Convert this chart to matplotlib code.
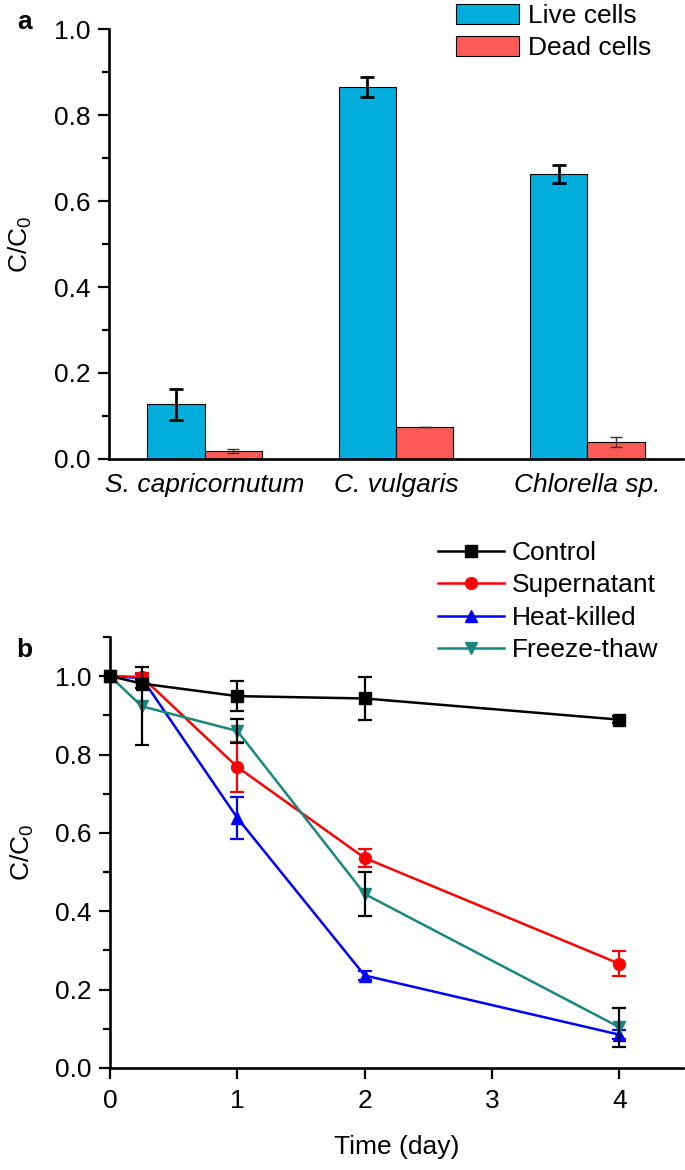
import numpy as np
import matplotlib.pyplot as plt
from matplotlib.ticker import MultipleLocator
from matplotlib.lines import Line2D

plt.rcParams['font.family'] = ['Liberation Sans', 'DejaVu Sans']
plt.rcParams['mathtext.default'] = 'regular'
plt.rcParams['font.size'] = 19

# panel a
species = ['S. capricornutum', 'C. vulgaris', 'Chlorella sp.']
live = [0.127, 0.866, 0.663]
live_err = [0.036, 0.023, 0.021]
dead = [0.019, 0.075, 0.040]
dead_err = [0.004, 0.0, 0.012]

# panel b
days = [0, 0.25, 1, 2, 4]
control = [1.0, 0.981, 0.949, 0.943, 0.889]
control_err = [0.0, 0.012, 0.038, 0.054, 0.008]
supernatant = [1.0, 0.998, 0.768, 0.536, 0.266]
supernatant_err = [0.0, 0.01, 0.063, 0.022, 0.032]
heat_killed = [1.0, 0.995, 0.638, 0.236, 0.085]
heat_killed_err = [0.0, 0.01, 0.054, 0.012, 0.012]
freeze_thaw = [1.0, 0.923, 0.860, 0.444, 0.104]
freeze_thaw_err = [0.0, 0.10, 0.03, 0.057, 0.05]

live_col = '#00AEDB'
dead_col = '#FF5A55'
teal = '#17877F'
fs = 19

fig = plt.figure(figsize=(6.85, 11.7), dpi=100)
ax1 = fig.add_axes([0.159, 0.6077, 0.838, 0.3675])
ax2 = fig.add_axes([0.1606, 0.0872, 0.8365, 0.3684])


def style(ax):
    for s in ['top', 'right']:
        ax.spines[s].set_visible(False)
    for s in ['left', 'bottom']:
        ax.spines[s].set_linewidth(1.9)
    ax.tick_params(which='major', length=8, width=1.6, direction='out', labelsize=fs, pad=5)
    ax.tick_params(which='minor', length=5, width=1.6, direction='out')


# ---- a ----
x = np.arange(len(species))
w = 0.3
ax1.bar(x - w/2, live, w, color=live_col, edgecolor='black', linewidth=0.8, label='Live cells')
ax1.bar(x + w/2, dead, w, color=dead_col, edgecolor='black', linewidth=0.8, label='Dead cells')
ax1.errorbar(x - w/2, live, yerr=live_err, fmt='none', ecolor='black',
             elinewidth=2, capsize=5, capthick=2)
ax1.errorbar(x + w/2, dead, yerr=dead_err, fmt='none', ecolor='#333333',
             elinewidth=1, capsize=4, capthick=1)
style(ax1)
ax1.set_xlim(-0.5, 2.5)
ax1.set_ylim(0, 1.0)
ax1.yaxis.set_major_locator(MultipleLocator(0.2))
ax1.yaxis.set_minor_locator(MultipleLocator(0.1))
ax1.yaxis.set_major_formatter(plt.FormatStrFormatter('%.1f'))
ax1.set_xticks(x)
ax1.set_xticklabels(species, style='italic')
ax1.tick_params(axis='x', length=0, pad=10)
ax1.set_ylabel('C/C$_0$', fontsize=fs)
ax1.yaxis.set_label_coords(-0.13, 0.5)
ax1.legend(loc='upper left', bbox_to_anchor=(456/685, 1 - 4/1170),
           bbox_transform=fig.transFigure, frameon=False, fontsize=fs,
           handlelength=2.4, handleheight=0.8, handletextpad=0.34,
           labelspacing=0.3, borderpad=0, borderaxespad=0)

# ---- b ----
series = [
    ('Heat-killed', heat_killed, heat_killed_err, 'blue', '^', 'blue'),
    ('Supernatant', supernatant, supernatant_err, 'red', 'o', 'red'),
    ('Freeze-thaw', freeze_thaw, freeze_thaw_err, teal, 'v', 'black'),
    ('Control', control, control_err, 'black', 's', 'black'),
]
handles = {}
for name, y, e, c, m, ec in series:
    ax2.plot(days, y, color=c, marker=m, markersize=8.5, linewidth=1.8, clip_on=False)
    ax2.errorbar(days, y, yerr=e, fmt='none', ecolor=ec, elinewidth=1.6,
                 capsize=5, capthick=1.6)
    handles[name] = Line2D([], [], color=c, marker=m, markersize=8.5, linewidth=1.8)
style(ax2)
ax2.set_xlim(0, 4.5)
ax2.set_ylim(0, 1.1)
ax2.xaxis.set_major_locator(MultipleLocator(1))
ax2.yaxis.set_major_locator(MultipleLocator(0.2))
ax2.yaxis.set_minor_locator(MultipleLocator(0.1))
ax2.yaxis.set_major_formatter(plt.FormatStrFormatter('%.1f'))
ax2.tick_params(axis='x', pad=7)
ax2.set_xlabel('Time (day)', fontsize=fs, labelpad=16)
ax2.set_ylabel('C/C$_0$', fontsize=fs)
ax2.yaxis.set_label_coords(-0.13, 0.5)
order = ['Control', 'Supernatant', 'Heat-killed', 'Freeze-thaw']
ax2.legend([handles[n] for n in order], order, loc='upper left',
           bbox_to_anchor=(438/685, 1 - 541/1170), bbox_transform=fig.transFigure,
           frameon=False, fontsize=fs, handlelength=2.5, handletextpad=0.3,
           labelspacing=0.32, borderpad=0, borderaxespad=0)

fig.text(25/685, 1 - 22/1170, 'a', fontsize=fs, fontweight='bold', ha='center', va='center')
fig.text(24/685, 1 - 650/1170, 'b', fontsize=fs, fontweight='bold', ha='center', va='center')

fig.savefig('out.png', dpi=100)
